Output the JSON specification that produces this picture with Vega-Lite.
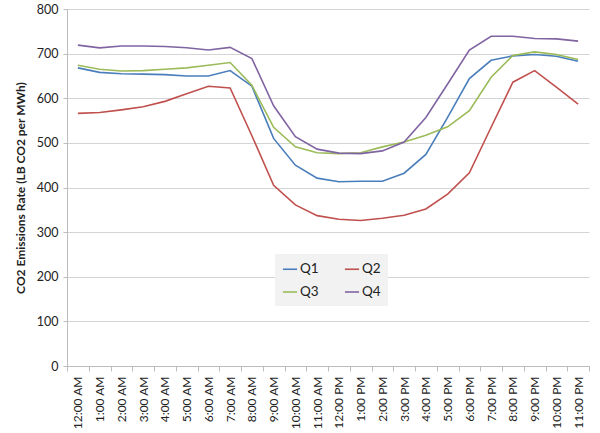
{
  "$schema": "https://vega.github.io/schema/vega-lite/v6.json",
  "width": 600,
  "height": 433,
  "autosize": {"type": "fit", "contains": "padding"},
  "padding": {"left": 14, "top": 3, "right": 10, "bottom": 3},
  "background": "white",
  "config": {
    "font": "Lato",
    "view": {"stroke": null}
  },
  "data": {
    "values": [
      {"hour": "12:00 AM", "Q1": 668, "Q2": 566, "Q3": 674, "Q4": 719},
      {"hour": "1:00 AM", "Q1": 658, "Q2": 568, "Q3": 665, "Q4": 713},
      {"hour": "2:00 AM", "Q1": 655, "Q2": 574, "Q3": 661, "Q4": 717},
      {"hour": "3:00 AM", "Q1": 654, "Q2": 581, "Q3": 662, "Q4": 717},
      {"hour": "4:00 AM", "Q1": 653, "Q2": 593, "Q3": 665, "Q4": 716},
      {"hour": "5:00 AM", "Q1": 650, "Q2": 610, "Q3": 668, "Q4": 713},
      {"hour": "6:00 AM", "Q1": 650, "Q2": 627, "Q3": 674, "Q4": 708},
      {"hour": "7:00 AM", "Q1": 662, "Q2": 623, "Q3": 680, "Q4": 714},
      {"hour": "8:00 AM", "Q1": 627, "Q2": 516, "Q3": 629, "Q4": 689},
      {"hour": "9:00 AM", "Q1": 510, "Q2": 405, "Q3": 535, "Q4": 583},
      {"hour": "10:00 AM", "Q1": 450, "Q2": 361, "Q3": 491, "Q4": 514},
      {"hour": "11:00 AM", "Q1": 421, "Q2": 337, "Q3": 478, "Q4": 486},
      {"hour": "12:00 PM", "Q1": 413, "Q2": 329, "Q3": 476, "Q4": 477},
      {"hour": "1:00 PM", "Q1": 414, "Q2": 326, "Q3": 478, "Q4": 476},
      {"hour": "2:00 PM", "Q1": 414, "Q2": 331, "Q3": 491, "Q4": 482},
      {"hour": "3:00 PM", "Q1": 432, "Q2": 338, "Q3": 502, "Q4": 502},
      {"hour": "4:00 PM", "Q1": 474, "Q2": 352, "Q3": 517, "Q4": 557},
      {"hour": "5:00 PM", "Q1": 557, "Q2": 385, "Q3": 536, "Q4": 632},
      {"hour": "6:00 PM", "Q1": 644, "Q2": 433, "Q3": 572, "Q4": 708},
      {"hour": "7:00 PM", "Q1": 685, "Q2": 535, "Q3": 647, "Q4": 739},
      {"hour": "8:00 PM", "Q1": 695, "Q2": 636, "Q3": 696, "Q4": 739},
      {"hour": "9:00 PM", "Q1": 698, "Q2": 662, "Q3": 704, "Q4": 734},
      {"hour": "10:00 PM", "Q1": 694, "Q2": 625, "Q3": 698, "Q4": 733},
      {"hour": "11:00 PM", "Q1": 683, "Q2": 587, "Q3": 687, "Q4": 728}
    ]
  },
  "transform": [
    {"fold": ["Q1", "Q2", "Q3", "Q4"], "as": ["quarter", "rate"]}
  ],
  "mark": {"type": "line", "strokeWidth": 1.6},
  "encoding": {
    "x": {
      "field": "hour",
      "type": "nominal",
      "sort": null,
      "title": null,
      "axis": {
        "labelAngle": -90,
        "labelFontSize": 12,
        "labelColor": "#222",
        "labelPadding": 5,
        "tickBand": "extent",
        "tickColor": "#bdbdbd",
        "tickSize": 5,
        "domainColor": "#bdbdbd",
        "grid": false
      }
    },
    "y": {
      "field": "rate",
      "type": "quantitative",
      "scale": {"domain": [0, 800]},
      "title": "CO2 Emissions Rate (LB CO2 per MWh)",
      "axis": {
        "values": [0, 100, 200, 300, 400, 500, 600, 700, 800],
        "titleFontSize": 12,
        "titleFontWeight": "bold",
        "titleColor": "#222",
        "titlePadding": 9,
        "labelFontSize": 12.5,
        "labelColor": "#222",
        "labelPadding": 5,
        "gridColor": "#d4d4d4",
        "domainColor": "#bdbdbd",
        "tickColor": "#bdbdbd",
        "tickSize": 4
      }
    },
    "color": {
      "field": "quarter",
      "type": "nominal",
      "scale": {
        "domain": ["Q1", "Q2", "Q3", "Q4"],
        "range": ["#4a7ebb", "#c0504d", "#9bbb59", "#8064a2"]
      },
      "legend": {
        "title": null,
        "orient": "none",
        "legendX": 208,
        "legendY": 245,
        "direction": "horizontal",
        "columns": 2,
        "columnPadding": 22,
        "rowPadding": 8,
        "symbolType": "stroke",
        "symbolSize": 200,
        "symbolStrokeWidth": 1.6,
        "labelFontSize": 13.5,
        "labelColor": "#222",
        "labelOffset": 2,
        "fillColor": "#f2f2f2",
        "padding": 7
      }
    }
  }
}
